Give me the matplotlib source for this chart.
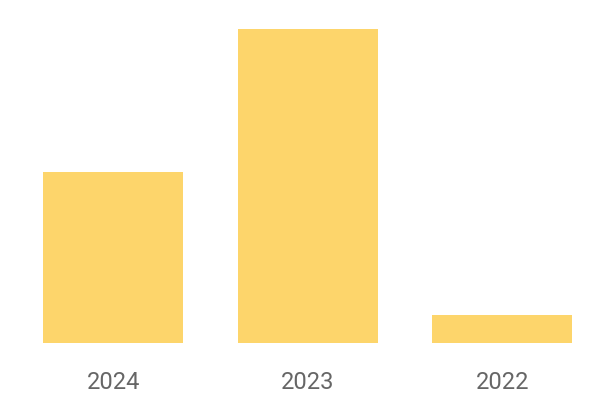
import matplotlib.pyplot as plt

# Dados (escala relativa, 2023 = 100)
anos = ['2024', '2023', '2022']
valores = [54.5, 100, 9.0]

fig = plt.figure(figsize=(6, 4), dpi=100)
ax = fig.add_axes([0.027, 0.1425, 0.972, 0.785])

ax.bar(anos, valores, width=0.72, color='#FDD56B')
ax.set_xlim(-0.5, 2.5)
ax.set_ylim(0, 100)

for lado in ax.spines.values():
    lado.set_visible(False)
ax.set_yticks([])
ax.tick_params(axis='x', length=0, pad=20, labelsize=17, labelcolor='#666666')
for rotulo in ax.get_xticklabels():
    rotulo.set_family('Roboto')

fig.savefig('out.png', dpi=100)
